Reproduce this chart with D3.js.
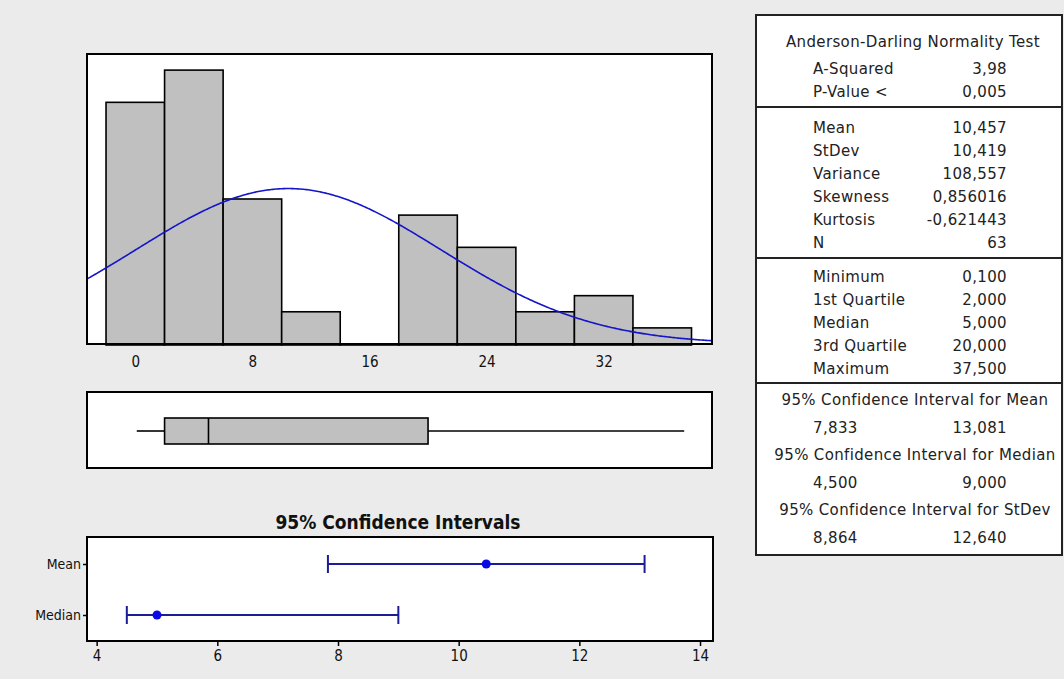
<!DOCTYPE html>
<html><head><meta charset="utf-8">
<script src="https://cdn.jsdelivr.net/npm/d3@7"></script>
<style>
body{margin:0;background:#ebebeb;}
svg{display:block;}
text{font-family:"DejaVu Sans Condensed","DejaVu Sans",sans-serif;fill:#111;}
.tbl text{font-family:"DejaVu Sans",sans-serif;font-size:15px;letter-spacing:0.35px;fill:#222;}
</style></head><body>
<svg id="c" width="1064" height="679"></svg>
<script>
// ---------- data ----------
const binStarts = [-2, 2, 6, 10, 14, 18, 22, 26, 30, 34];
const binWidth = 4;
const binCounts = [15, 17, 9, 2, 0, 8, 6, 2, 3, 1];
const histTicks = [0, 8, 16, 24, 32];
const fitMean = 10.457, fitStDev = 10.419, sampleN = 63;

const boxKeys = ["min", "q1", "median", "q3", "max"];
const boxValues = [0.1, 2, 5, 20, 37.5];

const ciCategories = ["Mean", "Median"];
const ciLower = [7.833, 4.5];
const ciUpper = [13.081, 9.0];
const ciEstimate = [10.457, 5.0];
const ciTicks = [4, 6, 8, 10, 12, 14];

const adTitle = "Anderson-Darling Normality Test";
const adLabels = ["A-Squared", "P-Value <"];
const adValues = ["3,98", "0,005"];
const momentLabels = ["Mean", "StDev", "Variance", "Skewness", "Kurtosis", "N"];
const momentValues = ["10,457", "10,419", "108,557", "0,856016", "-0,621443", "63"];
const quantLabels = ["Minimum", "1st Quartile", "Median", "3rd Quartile", "Maximum"];
const quantValues = ["0,100", "2,000", "5,000", "20,000", "37,500"];
const intervalTitles = ["95% Confidence Interval for Mean", "95% Confidence Interval for Median", "95% Confidence Interval for StDev"];
const intervalLow = ["7,833", "4,500", "8,864"];
const intervalHigh = ["13,081", "9,000", "12,640"];

// ---------- drawing ----------
const svg = d3.select("#c");
const box = boxKeys.reduce((o, k, i) => (o[k] = boxValues[i], o), {});
const axisFont = '"DejaVu Sans Condensed","DejaVu Sans",sans-serif';

// Histogram panel
const H = {l: 87, r: 712, t: 54, b: 344};
const x = d3.scaleLinear().domain([-3.3, 39.4]).range([H.l, H.r]);
const y = d3.scaleLinear().domain([0, 18]).range([H.b, H.t]);

svg.append("rect").attr("x", H.l).attr("y", H.t).attr("width", H.r - H.l).attr("height", H.b - H.t)
  .attr("fill", "#fff");

svg.append("g").selectAll("rect").data(binStarts).join("rect")
  .attr("x", d => x(d)).attr("width", d => x(d + binWidth) - x(d))
  .attr("y", (d, i) => y(binCounts[i])).attr("height", (d, i) => y(0) - y(binCounts[i]) + 1)
  .attr("fill", "#c0c0c0").attr("stroke", "#000").attr("stroke-width", 1.6);

// fitted normal curve from the summary mean / stdev
svg.append("clipPath").attr("id", "hc").append("rect")
  .attr("x", H.l).attr("y", H.t).attr("width", H.r - H.l).attr("height", H.b - H.t);
const xs = d3.range(x.domain()[0], x.domain()[1] + 0.01, 0.1);
const pdf = v => sampleN * binWidth / (fitStDev * Math.sqrt(2 * Math.PI)) * Math.exp(-0.5 * ((v - fitMean) / fitStDev) ** 2);
svg.append("path").attr("clip-path", "url(#hc)").datum(xs)
  .attr("d", d3.line().x(d => x(d)).y(d => y(pdf(d))))
  .attr("fill", "none").attr("stroke", "#1414c8").attr("stroke-width", 1.6);

svg.append("rect").attr("x", H.l).attr("y", H.t).attr("width", H.r - H.l).attr("height", H.b - H.t)
  .attr("fill", "none").attr("stroke", "#000").attr("stroke-width", 2);

const hax = svg.append("g").attr("transform", `translate(0,${H.b})`)
  .call(d3.axisBottom(x).tickValues(histTicks).tickSize(0).tickPadding(12));
hax.select(".domain").remove();
hax.selectAll("text").attr("font-size", 15).attr("font-family", axisFont).attr("fill", "#222");

// Boxplot panel
const B = {l: 87, r: 712, t: 392, b: 468};
svg.append("rect").attr("x", B.l).attr("y", B.t).attr("width", B.r - B.l).attr("height", B.b - B.t)
  .attr("fill", "#fff").attr("stroke", "#000").attr("stroke-width", 2);
const bc = 431, bh = 13;
svg.append("line").attr("x1", x(box.min)).attr("x2", x(box.q1)).attr("y1", bc).attr("y2", bc).attr("stroke", "#000").attr("stroke-width", 1.6);
svg.append("line").attr("x1", x(box.q3)).attr("x2", x(box.max)).attr("y1", bc).attr("y2", bc).attr("stroke", "#000").attr("stroke-width", 1.6);
svg.append("rect").attr("x", x(box.q1)).attr("width", x(box.q3) - x(box.q1)).attr("y", bc - bh).attr("height", 2 * bh)
  .attr("fill", "#c0c0c0").attr("stroke", "#000").attr("stroke-width", 1.6);
svg.append("line").attr("x1", x(box.median)).attr("x2", x(box.median)).attr("y1", bc - bh).attr("y2", bc + bh).attr("stroke", "#000").attr("stroke-width", 1.6);

// Confidence interval panel
const C = {l: 87, r: 713, t: 537, b: 641};
svg.append("text").attr("x", 398).attr("y", 529).attr("text-anchor", "middle")
  .attr("font-size", 19).attr("font-weight", "bold").text("95% Confidence Intervals");
const cx = d3.scaleLinear().domain([3.84, 14.215]).range([C.l, C.r]);
const cy = d3.scalePoint().domain(ciCategories).range([564, 615]);
svg.append("rect").attr("x", C.l).attr("y", C.t).attr("width", C.r - C.l).attr("height", C.b - C.t)
  .attr("fill", "#fff").attr("stroke", "#000").attr("stroke-width", 2);

const cax = svg.append("g").attr("transform", `translate(0,${C.b})`)
  .call(d3.axisBottom(cx).tickValues(ciTicks).tickSize(5).tickPadding(4));
cax.select(".domain").remove();
cax.selectAll("line").attr("stroke", "#000").attr("stroke-width", 1.5);
cax.selectAll("text").attr("font-size", 15).attr("font-family", axisFont).attr("fill", "#222");

const cay = svg.append("g").attr("transform", `translate(${C.l},0)`)
  .call(d3.axisLeft(cy).tickSize(4).tickPadding(2));
cay.select(".domain").remove();
cay.selectAll("line").attr("stroke", "#000").attr("stroke-width", 1.5);
cay.selectAll("text").attr("font-size", 14).attr("font-family", axisFont).attr("fill", "#222");

const ci = svg.append("g");
ciCategories.forEach((c, i) => {
  const yy = cy(c);
  ci.append("line").attr("x1", cx(ciLower[i])).attr("x2", cx(ciUpper[i])).attr("y1", yy).attr("y2", yy)
    .attr("stroke", "#1c1c96").attr("stroke-width", 2);
  [ciLower[i], ciUpper[i]].forEach(v => ci.append("line").attr("x1", cx(v)).attr("x2", cx(v))
    .attr("y1", yy - 9).attr("y2", yy + 9).attr("stroke", "#1c1c96").attr("stroke-width", 2));
  ci.append("circle").attr("cx", cx(ciEstimate[i])).attr("cy", yy).attr("r", 4.5).attr("fill", "#0a0ae6");
});

// Summary table
const T = svg.append("g").attr("class", "tbl");
const TL = 756, TR = 1062, TT = 15, TB = 555;
T.append("rect").attr("x", TL).attr("y", TT).attr("width", TR - TL).attr("height", TB - TT)
  .attr("fill", "#fff").attr("stroke", "#222").attr("stroke-width", 2);
[107, 258, 383].forEach(v => T.append("line").attr("x1", TL).attr("x2", TR).attr("y1", v).attr("y2", v)
  .attr("stroke", "#222").attr("stroke-width", 2));
const labX = 813, valX = 1007, midX = 913;
function row(label, value, yy) {
  T.append("text").attr("x", labX).attr("y", yy).attr("dy", "0.36em").text(label);
  T.append("text").attr("x", valX).attr("y", yy).attr("dy", "0.36em").attr("text-anchor", "end").text(value);
}
T.append("text").attr("x", midX).attr("y", 42).attr("dy", "0.36em").attr("text-anchor", "middle").text(adTitle);
adLabels.forEach((l, i) => row(l, adValues[i], 69 + i * 23));
momentLabels.forEach((l, i) => row(l, momentValues[i], 128 + i * 23));
quantLabels.forEach((l, i) => row(l, quantValues[i], 277 + i * 23));
intervalTitles.forEach((t, i) => {
  const yy = 400 + i * 55;
  T.append("text").attr("x", 915).attr("y", yy).attr("dy", "0.36em").attr("text-anchor", "middle").text(t);
  row(intervalLow[i], intervalHigh[i], yy + 28);
});
</script></body></html>
